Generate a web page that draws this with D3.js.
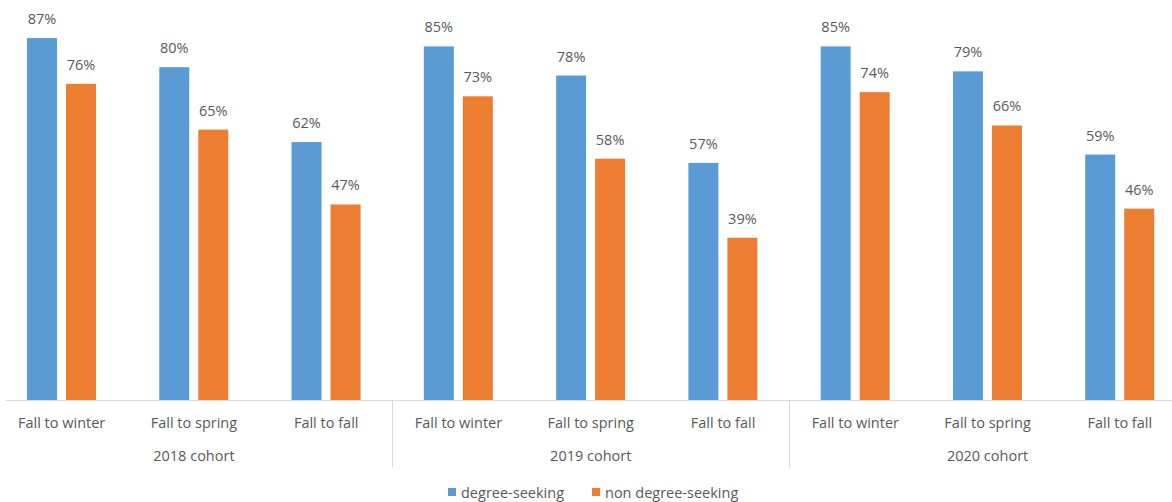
<!DOCTYPE html>
<html>
<head>
<meta charset="utf-8">
<script src="https://cdn.jsdelivr.net/npm/d3@7"></script>
<style>
  body { margin: 0; background: #fff; }
  text { font-family: "Open Sans", sans-serif; fill: #595959; }
</style>
</head>
<body>
<div id="chart"></div>
<script>
'use strict';

var cohorts = ["2018 cohort", "2019 cohort", "2020 cohort"];
var periods = ["Fall to winter", "Fall to spring", "Fall to fall"];
var series = ["degree-seeking", "non degree-seeking"];
var colors = ["#5b9bd5", "#ed7d31"];
var degreeSeeking = [0.87, 0.80, 0.62, 0.85, 0.78, 0.57, 0.85, 0.79, 0.59];
var nonDegreeSeeking = [0.76, 0.65, 0.47, 0.73, 0.58, 0.39, 0.74, 0.66, 0.46];

var width = 1172, height = 502;
var baseY = 400;

var svg = d3.select("#chart").append("svg")
  .attr("width", width)
  .attr("height", height);

// one row per category (cohort x period)
var rows = [];
cohorts.forEach(function (c, i) {
  periods.forEach(function (p, j) {
    var k = i * periods.length + j;
    rows.push({ key: c + "|" + p, cohort: c, period: p, values: [degreeSeeking[k], nonDegreeSeeking[k]] });
  });
});

var x0 = d3.scaleBand()
  .domain(rows.map(function (d) { return d.key; }))
  .range([-4.5, 1186]);

var x1 = d3.scaleBand()
  .domain(series)
  .range([31.5, 100.5])
  .paddingInner(9 / 39);

var y = d3.scaleLinear()
  .domain([0, 1])
  .range([baseY, baseY - 416]);

var groups = svg.selectAll("g.cat")
  .data(rows)
  .enter().append("g")
  .attr("class", "cat")
  .attr("transform", function (d) { return "translate(" + x0(d.key) + ",0)"; });

groups.selectAll("rect")
  .data(function (d) { return d.values.map(function (v, i) { return { s: series[i], v: v, c: colors[i] }; }); })
  .enter().append("rect")
  .attr("x", function (d) { return x1(d.s); })
  .attr("width", x1.bandwidth())
  .attr("y", function (d) { return y(d.v); })
  .attr("height", function (d) { return baseY - y(d.v); })
  .attr("fill", function (d) { return d.c; });

groups.selectAll("text.lbl")
  .data(function (d) { return d.values.map(function (v, i) { return { s: series[i], v: v }; }); })
  .enter().append("text")
  .attr("class", "lbl")
  .attr("x", function (d) { return x1(d.s) + x1.bandwidth() / 2; })
  .attr("y", function (d) { return y(d.v) - 14; })
  .attr("text-anchor", "middle")
  .style("font-size", "14.5px")
  .text(function (d) { return d3.format(".0%")(d.v); });

// period labels
groups.append("text")
  .attr("x", x0.bandwidth() / 2)
  .attr("y", 428)
  .attr("text-anchor", "middle")
  .style("font-size", "14.5px")
  .text(function (d) { return d.period; });

// axis line
svg.append("line")
  .attr("x1", 6).attr("x2", width)
  .attr("y1", baseY + 0.5).attr("y2", baseY + 0.5)
  .attr("stroke", "#d9d9d9");

// cohort separators and labels
var groupW = x0.step() * periods.length;
cohorts.forEach(function (c, i) {
  var gx = x0(c + "|" + periods[0]);
  if (i > 0) {
    svg.append("line")
      .attr("x1", Math.round(gx) + 0.5).attr("x2", Math.round(gx) + 0.5)
      .attr("y1", baseY).attr("y2", 467)
      .attr("stroke", "#d9d9d9");
  }
  svg.append("text")
    .attr("x", gx + groupW / 2)
    .attr("y", 461)
    .attr("text-anchor", "middle")
    .style("font-size", "14.5px")
    .text(c);
});

// legend
var legend = svg.append("g").attr("transform", "translate(448,493)");
var lx = [0, 144];
series.forEach(function (s, i) {
  var g = legend.append("g").attr("transform", "translate(" + lx[i] + ",0)");
  g.append("rect").attr("x", 0).attr("y", -5).attr("width", 8).attr("height", 8).attr("fill", colors[i]);
  g.append("text").attr("x", 13).attr("y", 4.5).style("font-size", "14.5px").text(s);
});
</script>
</body>
</html>
